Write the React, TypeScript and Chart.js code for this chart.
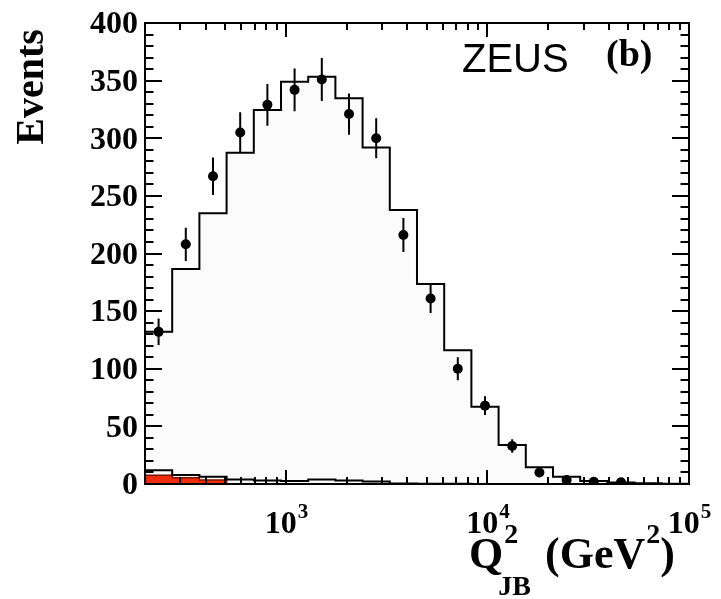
import React, { useEffect, useRef } from 'react';
import { Chart, registerables } from 'chart.js';
Chart.register(...registerables);

// Bin edges of the Q2_JB histogram (GeV^2), 20 equal log bins
const binEdges = [200, 272.9, 372.3, 508.0, 693.1, 945.7, 1290.3, 1760.5, 2402.1, 3277.5, 4471.9, 6101.6, 8325.1, 11359, 15498, 21146, 28852, 39367, 53713, 73288, 100000];
// Data point positions (bin centres) and values
const dataX = [233.6, 318.7, 434.9, 593.4, 809.6, 1104.6, 1507.3, 2056.6, 2806.0, 3828.6, 5223.8, 7127.4, 9724.7, 13269, 18104, 24701, 33702, 45984];
const dataEvents = [132, 208, 267, 305, 329, 342, 351, 321, 300, 216, 161, 100, 68, 33, 10, 3.5, 2, 1.5];
const dataErrors = [11.5, 14.4, 16.3, 17.5, 18.1, 18.5, 18.7, 17.9, 17.3, 14.7, 12.7, 10, 8.2, 5.8, 3.2, 1.9, 1.4, 1.2];
// MC expectation
const mcEvents = [132, 186.5, 235, 287.5, 324.5, 349, 353.4, 334.7, 292, 237.7, 173.5, 116, 67, 33.8, 14.5, 6.3, 2.6, 1.3, 0.6, 0.3];
// Background contributions
const bgTotal = [12, 7.8, 6.3, 4, 3, 2.6, 4, 3, 2.2, 0.5, 0.3, 0.2, 0.1, 0, 0, 0, 0, 0, 0, 0];
const bgRed = [7.5, 5.5, 3.5, 0, 0, 0, 0, 0, 0, 0, 0, 0, 0, 0, 0, 0, 0, 0, 0, 0];

// Axis ticks and labels
const yTickLabels = [0, 50, 100, 150, 200, 250, 300, 350, 400];
const yMinorStep = 10;
const xLabelValues = [1000, 10000, 100000];
const xLabelExponents = ['3', '4', '5'];
const xDecades = [100, 1000, 10000];

const SERIF = '"Liberation Serif", "Times New Roman", serif';
const SANS = '"Liberation Sans", Arial, sans-serif';

function stepPoints(vals: number[]) {
  const pts = vals.map((v, i) => ({ x: binEdges[i], y: v }));
  pts.push({ x: binEdges[binEdges.length - 1], y: vals[vals.length - 1] });
  return pts;
}

const framePlugin = {
  id: 'framePlugin',
  afterDraw(chart: any) {
    const ctx = chart.ctx as CanvasRenderingContext2D;
    const { left, right, top, bottom } = chart.chartArea;
    const xs = chart.scales.x;
    const ys = chart.scales.y;
    ctx.save();
    ctx.strokeStyle = '#000';
    ctx.lineWidth = 2;
    ctx.strokeRect(left, top, right - left, bottom - top);
    // y ticks
    ctx.beginPath();
    for (let v = 0; v <= 400; v += yMinorStep) {
      const py = Math.round(ys.getPixelForValue(v));
      const major = v % 50 === 0;
      const len = major ? 17 : 8.5;
      ctx.moveTo(left, py); ctx.lineTo(left + len, py);
      ctx.moveTo(right, py); ctx.lineTo(right - len, py);
    }
    // x ticks
    xDecades.forEach((d) => {
      for (let m = 1; m <= 9; m++) {
        const v = d * m;
        if (v < 200 || v > 100000) continue;
        const px = Math.round(xs.getPixelForValue(v));
        const len = m === 1 ? 14 : 7;
        ctx.moveTo(px, bottom); ctx.lineTo(px, bottom - len);
        ctx.moveTo(px, top); ctx.lineTo(px, top + len);
      }
    });
    ctx.stroke();

    // y tick labels
    ctx.fillStyle = '#000';
    ctx.font = `bold 32px ${SERIF}`;
    ctx.textAlign = 'right';
    ctx.textBaseline = 'middle';
    yTickLabels.forEach((v) => {
      ctx.fillText(String(v), 138, ys.getPixelForValue(v) + 2);
    });

    // x tick labels 10^n
    ctx.textAlign = 'left';
    ctx.textBaseline = 'alphabetic';
    xLabelValues.forEach((v, i) => {
      const px = xs.getPixelForValue(v);
      ctx.font = `bold 32px ${SERIF}`;
      const w1 = ctx.measureText('10').width;
      ctx.font = `bold 21px ${SERIF}`;
      const w2 = ctx.measureText(xLabelExponents[i]).width;
      const x0 = px - (w1 + w2) / 2;
      ctx.font = `bold 32px ${SERIF}`;
      ctx.fillText('10', x0, 533);
      ctx.font = `bold 21px ${SERIF}`;
      ctx.fillText(xLabelExponents[i], x0 + w1 + 1, 518);
    });

    // Y title
    ctx.save();
    ctx.translate(43, 87);
    ctx.rotate(-Math.PI / 2);
    ctx.font = `bold 40px ${SERIF}`;
    ctx.textAlign = 'center';
    ctx.fillText('Events', 0, 0);
    ctx.restore();

    // X title
    ctx.textAlign = 'left';
    let x = 469;
    ctx.font = `bold 44px ${SERIF}`;
    ctx.fillText('Q', x, 568);
    x += ctx.measureText('Q').width + 1;
    ctx.font = `bold 28px ${SERIF}`;
    ctx.fillText('2', x, 543);
    ctx.fillText('JB', x - 6, 595);
    x = 545;
    ctx.font = `bold 44px ${SERIF}`;
    ctx.fillText('(GeV', x, 568);
    x += ctx.measureText('(GeV').width + 1;
    ctx.font = `bold 28px ${SERIF}`;
    ctx.fillText('2', x, 543);
    x += ctx.measureText('2').width;
    ctx.font = `bold 44px ${SERIF}`;
    ctx.fillText(')', x, 568);

    // ZEUS and (b)
    ctx.font = `40px ${SANS}`;
    ctx.fillText('ZEUS', 462, 72);
    ctx.font = `bold 38px ${SERIF}`;
    ctx.fillText('(b)', 606, 66);
    ctx.restore();
  },
};

export default function App() {
  const ref = useRef<HTMLCanvasElement | null>(null);
  useEffect(() => {
    if (!ref.current) return;
    const errPts: any[] = [];
    dataX.forEach((x, i) => {
      errPts.push({ x, y: dataEvents[i] - dataErrors[i] });
      errPts.push({ x, y: dataEvents[i] + dataErrors[i] });
      errPts.push({ x, y: null });
    });
    const chart = new Chart(ref.current, {
      type: 'line',
      data: {
        datasets: [
          {
            label: 'MC',
            data: stepPoints(mcEvents),
            stepped: true,
            borderColor: '#000',
            borderWidth: 2,
            backgroundColor: 'rgb(251,251,251)',
            fill: 'origin',
            pointRadius: 0,
            order: 5,
          } as any,
          {
            label: 'bg red',
            data: stepPoints(bgRed),
            stepped: true,
            borderColor: '#7a1500',
            borderWidth: 1.5,
            backgroundColor: 'rgb(240,45,10)',
            fill: 'origin',
            pointRadius: 0,
            order: 4,
          } as any,
          {
            label: 'bg total',
            data: stepPoints(bgTotal),
            stepped: true,
            borderColor: '#000',
            borderWidth: 2,
            fill: false,
            pointRadius: 0,
            order: 3,
          } as any,
          {
            label: 'errors',
            data: errPts,
            borderColor: '#000',
            borderWidth: 2,
            fill: false,
            pointRadius: 0,
            spanGaps: false,
            order: 2,
          } as any,
          {
            label: 'data',
            data: dataX.map((x, i) => ({ x, y: dataEvents[i] })),
            showLine: false,
            pointRadius: 5,
            pointBackgroundColor: '#000',
            pointBorderColor: '#000',
            pointBorderWidth: 0,
            order: 1,
          } as any,
        ],
      },
      options: {
        responsive: false,
        animation: false,
        devicePixelRatio: 1,
        layout: { padding: { left: 145, right: 32, top: 23, bottom: 115 } },
        plugins: { legend: { display: false }, tooltip: { enabled: false } },
        scales: {
          x: { type: 'logarithmic', min: 200, max: 100000, display: false },
          y: { type: 'linear', min: 0, max: 400, display: false },
        },
      },
      plugins: [framePlugin],
    });
    return () => chart.destroy();
  }, []);
  return (
    <div style={{ position: 'fixed', left: 0, top: 0, width: 721, height: 599, background: '#fff' }}>
      <canvas ref={ref} width={721} height={599} />
    </div>
  );
}
